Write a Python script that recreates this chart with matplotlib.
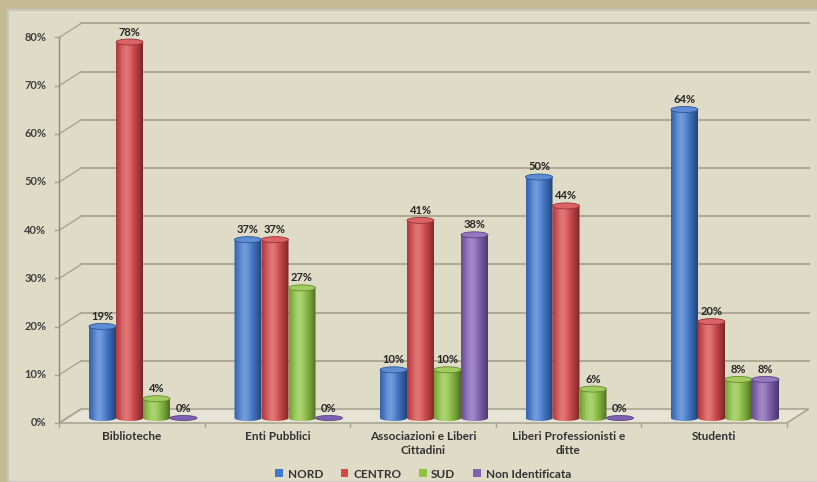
import numpy as np
import matplotlib
matplotlib.use('Agg')
import matplotlib.pyplot as plt
from matplotlib.patches import Rectangle, Ellipse, Polygon, PathPatch
from matplotlib.path import Path
from matplotlib.colors import to_rgb

# data (percent)
categories = ['Biblioteche', 'Enti Pubblici', 'Associazioni e Liberi\nCittadini',
              'Liberi Professionisti e\nditte', 'Studenti']
series = ['NORD', 'CENTRO', 'SUD', 'Non Identificata']
nord = [19, 37, 10, 50, 64]
centro = [78, 37, 41, 44, 20]
sud = [4, 27, 10, 6, 8]
non_ident = [0, 0, 38, 0, 8]
yticks = [0, 10, 20, 30, 40, 50, 60, 70, 80]

colors = ['#4179cf', '#d6484a', '#8fc442', '#8060b4']

plt.rcParams['font.family'] = ['Lato', 'DejaVu Sans']

W, H, DPI = 817, 482, 100
fig = plt.figure(figsize=(W / DPI, H / DPI), dpi=DPI, facecolor='#c4bb94')
fig.patches.append(Rectangle((8 / W, 0), 1, (H - 10) / H, transform=fig.transFigure,
                             facecolor='#dedbc7', edgecolor='#cbc6c2', lw=1.5, zorder=-1))

ax = fig.add_axes([0, 0, 1, 1])
ax.set_axis_off()
ax.set_zorder(1)
ax.patch.set_alpha(0)

# pixel scale of the drawing
px_cat, px_pct = 145.5, 4.82
x0_px, y0_px = 143, 418
# 3d depth offsets (front plane / back wall) in data units
fdx, fdy = -11 / px_cat, -5 / px_pct
bdx, bdy = 11 / px_cat, 9 / px_pct
grid_c = '#a9a590'
n = len(categories)

# floor
floor = Polygon([(-0.5 + fdx, fdy), (n - 0.5 + fdx, fdy), (n - 0.5 + bdx, bdy), (-0.5 + bdx, bdy)],
                closed=True, facecolor='#e6e4d6', edgecolor=grid_c, lw=1.2, zorder=1)
ax.add_patch(floor)

# back wall gridlines + diagonals + labels
for v in yticks:
    if v > 0:
        ax.plot([-0.5 + bdx, n - 0.5 + bdx], [v + bdy, v + bdy], color=grid_c, lw=1.3, zorder=1)
    ax.plot([-0.5 + fdx, -0.5 + bdx], [v + fdy, v + bdy], color=grid_c, lw=1.0, zorder=1)
    ax.plot([-0.5 + fdx - 4 / px_cat, -0.5 + fdx], [v + fdy, v + fdy], color=grid_c, lw=1.0, zorder=1)
    ax.text(-0.5 + fdx - 13 / px_cat, v + fdy, f'{v}%', ha='right', va='center',
            fontsize=8, fontweight='bold', color='#404040')
ax.plot([-0.5 + fdx, -0.5 + fdx], [fdy, yticks[-1] + fdy], color='#8e8b7b', lw=1.0, zorder=1)

# category ticks and labels
for b in range(n + 1):
    ax.plot([b - 0.5 + fdx, b - 0.5 + fdx], [fdy, fdy - 4 / px_pct], color=grid_c, lw=1.0, zorder=1)
for i, cat in enumerate(categories):
    ax.text(i + fdx, fdy - 8 / px_pct, cat, ha='center', va='top', fontsize=8.5,
            fontweight='bold', color='#333333', linespacing=1.35)


def shade(base, npts=64):
    t = np.linspace(0, 1, npts)
    base = np.array(to_rgb(base))
    light = np.exp(-((t - 0.38) / 0.22) ** 2)
    dark = np.clip(np.abs(t - 0.4) / 0.6, 0, 1) ** 2
    rgb = base[None, :] * (1 - 0.45 * dark[:, None])
    rgb = rgb + (1 - rgb) * 0.25 * light[:, None]
    return np.clip(rgb, 0, 1)[None, :, :]


bw = 27 / px_cat
e = 6 / px_pct
all_series = [nord, centro, sud, non_ident]
for k, (vals, col) in enumerate(zip(all_series, colors)):
    base = np.array(to_rgb(col))
    for i, h in enumerate(vals):
        xc = i + (k - 1.5) * bw
        xl, xr = xc - bw / 2, xc + bw / 2
        if h == 0:
            ax.add_patch(Ellipse((xc, 0), bw, 5 / px_pct, facecolor=col,
                                 edgecolor=base * 0.7, lw=0.6, zorder=3))
        else:
            th = np.linspace(np.pi, 2 * np.pi, 40)
            pts = [(xl, h), (xl, 0)] + list(zip(xc + bw / 2 * np.cos(th), e / 2 * np.sin(th))) + [(xr, h), (xl, h)]
            path = Path(pts, closed=True)
            clip = PathPatch(path, facecolor='none', edgecolor='none', transform=ax.transData)
            ax.add_patch(clip)
            im = ax.imshow(shade(col), extent=(xl, xr, -e / 2, h), aspect='auto',
                           interpolation='bilinear', zorder=3)
            im.set_clip_path(clip)
            top = base + (1 - base) * 0.15
            ax.add_patch(Ellipse((xc, h), bw, e, facecolor=top, edgecolor=base * 0.7,
                                 lw=0.6, zorder=4))
        ax.text(xc, h + 10 / px_pct, f'{h}%', ha='center', va='center', fontsize=8,
                fontweight='bold', color='#262626', zorder=5)

ax.set_xlim(-x0_px / px_cat, (W - x0_px) / px_cat)
ax.set_ylim(-(H - y0_px) / px_pct, y0_px / px_pct)

handles = [Rectangle((0, 0), 1, 1, facecolor=c) for c in colors]
fig.legend(handles, series, loc='center', bbox_to_anchor=(423 / W, (H - 474) / H), ncol=4,
           frameon=False, prop={'weight': 'bold', 'size': 8.5}, handlelength=0.65,
           handleheight=0.65, handletextpad=0.4, columnspacing=1.5, labelcolor='#333333')

fig.savefig('out.png', dpi=DPI, facecolor=fig.get_facecolor())
